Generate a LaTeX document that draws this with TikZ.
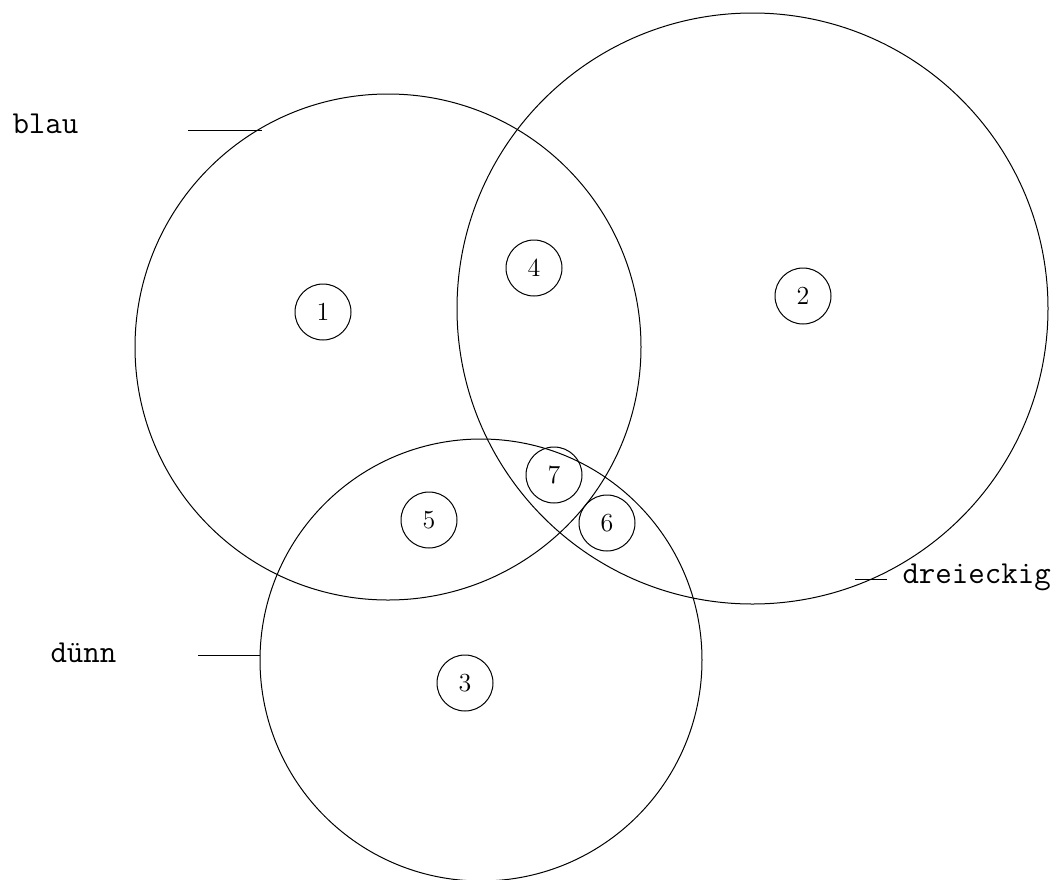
\documentclass[tikz,border=0pt]{standalone}
\usepackage{fontspec}
\usetikzlibrary{positioning}
\begin{document}
\begin{tikzpicture}[x=0.5pt, y=-0.5pt, line width=0.5pt]
\tikzset{menge/.style={draw, circle, inner sep=0pt, outer sep=0pt}, feld/.style={draw, circle, inner sep=0pt, minimum size=28pt, font=\fontsize{13}{15}\selectfont}, lbl/.style={font=\ttfamily\fontsize{16}{19}\selectfont, inner sep=0pt, anchor=base west}}
\useasboundingbox (0,0) rectangle (1061,879);
% die drei Mengen
\node[menge, minimum size=253pt] (blau) at (388,347) {};
\node[menge, minimum size=295.5pt] (dreieckig) at (752.5,308.5) {};
\node[menge, minimum size=221pt] (duenn) at (481,660) {};
% Felder
\node[feld] (f1) at (323,312) {1};
\node[feld] (f2) at (803,296) {2};
\node[feld] (f3) at (465,683) {3};
\node[feld] (f4) at (534,268) {4};
\node[feld] (f5) at (429,520) {5};
\node[feld] (f6) at (607,523) {6};
\node[feld] (f7) at (554,475) {7};
% Beschriftungen
\node[lbl] (tblau) at (12,133) {blau};
\node[lbl] (tduenn) at (50,662) {dünn};
\node[lbl] (tdreieckig) at (902,583) {dreieckig};
\coordinate (sblau) at (188,130); \coordinate (sduenn) at (198,655); \coordinate (sdreieckig) at (855,579); \coordinate (edreieckig) at (887,579);
\draw (sblau) -- (sblau -| blau.120.4); \draw (sduenn) -- (sduenn -| duenn.178.7); \draw (sdreieckig) -- (edreieckig);
\end{tikzpicture}
\end{document}
